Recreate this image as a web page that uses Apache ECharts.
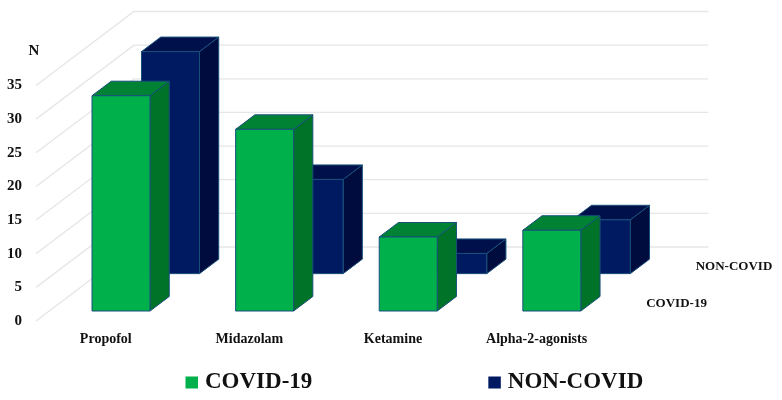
<!DOCTYPE html>
<html><head><meta charset="utf-8">
<style>html,body{margin:0;padding:0;background:#fff}#c{width:782px;height:400px}</style>
<script src="https://cdn.jsdelivr.net/npm/echarts@6/dist/echarts.min.js"></script>
</head><body><div id="c"></div>
<script>
const categories = ['Propofol', 'Midazolam', 'Ketamine', 'Alpha-2-agonists'];
const covid = [32, 27, 11, 12];
const nonCovid = [33, 14, 3, 8];
const depthLabels = ['COVID-19', 'NON-COVID'];
const yTicks = [0, 5, 10, 15, 20, 25, 30, 35];

const FONT = '"Liberation Serif","Times New Roman",serif';
const DEPTH = [98, -74];           // oblique vector from front plane to back wall
const SLOT = [0.135, 0.64];        // depth where each row's front face sits
const THICK = 0.196;               // bar depth, as part of the whole depth
const WIDTH = 58 / 143.6;          // bar width, as part of a category band
const EDGE = '#17507a';

function barRenderer(slot, face, side, top) {
  return function (params, api) {
    const band = api.size([1, 0])[0];
    const w = band * WIDTH;
    const p0 = api.coord([api.value(0), 0]);
    const p1 = api.coord([api.value(0), api.value(1)]);
    const dx = DEPTH[0] * slot, dy = DEPTH[1] * slot;
    const tx = DEPTH[0] * THICK, ty = DEPTH[1] * THICK;
    const x = p0[0] - w / 2 + dx, b = p0[1] + dy, t = p1[1] + dy, r = x + w;
    const lw = { stroke: EDGE, lineWidth: 1, lineJoin: 'round' };
    return {
      type: 'group',
      children: [
        { type: 'polygon', shape: { points: [[r, b], [r + tx, b + ty], [r + tx, t + ty], [r, t]] }, style: Object.assign({ fill: side }, lw) },
        { type: 'polygon', shape: { points: [[x, t], [r, t], [r + tx, t + ty], [x + tx, t + ty]] }, style: Object.assign({ fill: top }, lw) },
        { type: 'rect', shape: { x: x, y: t, width: w, height: b - t }, style: Object.assign({ fill: face }, lw) }
      ]
    };
  };
}

const option = {
  animation: false,
  backgroundColor: '#fff',
  grid: { left: 36, width: 574.4, top: 85.5, bottom: 79, containLabel: false },
  legend: {
    data: ['COVID-19', 'NON-COVID'],
    left: 180.5, top: 366,
    icon: 'rect', itemWidth: 12.5, itemHeight: 12, itemGap: 176,
    selectedMode: false,
    textStyle: { fontFamily: FONT, fontWeight: 'bold', fontSize: 23, color: '#111', padding: [0, 0, 0, 2] }
  },
  xAxis: {
    type: 'category', data: categories,
    axisLine: { show: false }, axisTick: { show: false }, splitLine: { show: false },
    axisLabel: { interval: 0, margin: 11, fontFamily: FONT, fontWeight: 'bold', fontSize: 14, color: '#111', padding: [0, 4, 0, 0] }
  },
  yAxis: {
    type: 'value', min: 0, max: 35, interval: 5,
    name: 'N', nameLocation: 'end', nameGap: 27,
    nameTextStyle: { fontFamily: FONT, fontWeight: 'bold', fontSize: 15, color: '#111', padding: [0, 4, 0, 0] , align: 'center'},
    axisLine: { show: false }, axisTick: { show: false }, splitLine: { show: false },
    axisLabel: { margin: 14, fontFamily: FONT, fontWeight: 'bold', fontSize: 15, color: '#111' }
  },
  series: [
    {
      name: 'walls', type: 'custom', silent: true, clip: false, z: 1,
      data: yTicks.map(v => [0, v]),
      renderItem(params, api) {
        const cs = params.coordSys;
        const y = api.coord([0, api.value(1)])[1];
        const xb = cs.x + DEPTH[0], yb = y + DEPTH[1];
        return { type: 'polyline', shape: { points: [[cs.x, y], [xb, yb], [cs.x + cs.width + DEPTH[0], yb]] },
                 style: { fill: 'none', stroke: '#e6e6e6', lineWidth: 1.3 } };
      }
    },
    {
      name: 'NON-COVID', type: 'custom', clip: false, z: 2, silent: true,
      itemStyle: { color: '#001a62' },
      data: nonCovid.map((v, i) => [i, v]),
      renderItem: barRenderer(SLOT[1], '#001a62', '#000c3e', '#00104a')
    },
    {
      name: 'COVID-19', type: 'custom', clip: false, z: 3, silent: true,
      itemStyle: { color: '#00b04a' },
      data: covid.map((v, i) => [i, v]),
      renderItem: barRenderer(SLOT[0], '#00b04a', '#007328', '#008234')
    },
    {
      name: 'depth', type: 'custom', silent: true, clip: false, z: 4,
      data: depthLabels.map((n, i) => [i, 0]),
      renderItem(params, api) {
        const cs = params.coordSys;
        const i = api.value(0);
        const s = SLOT[i] + THICK / 2;
        return { type: 'text', style: {
          x: cs.x + cs.width + DEPTH[0] * s + 13, y: cs.y + cs.height + DEPTH[1] * s,
          text: depthLabels[i], align: 'left', verticalAlign: 'middle',
          fontFamily: FONT, fontWeight: 'bold', fontSize: 13, fill: '#111' } };
      }
    }
  ]
};
const chart = echarts.init(document.getElementById('c'), null, { renderer: 'canvas' });
chart.setOption(option);
</script></body></html>
